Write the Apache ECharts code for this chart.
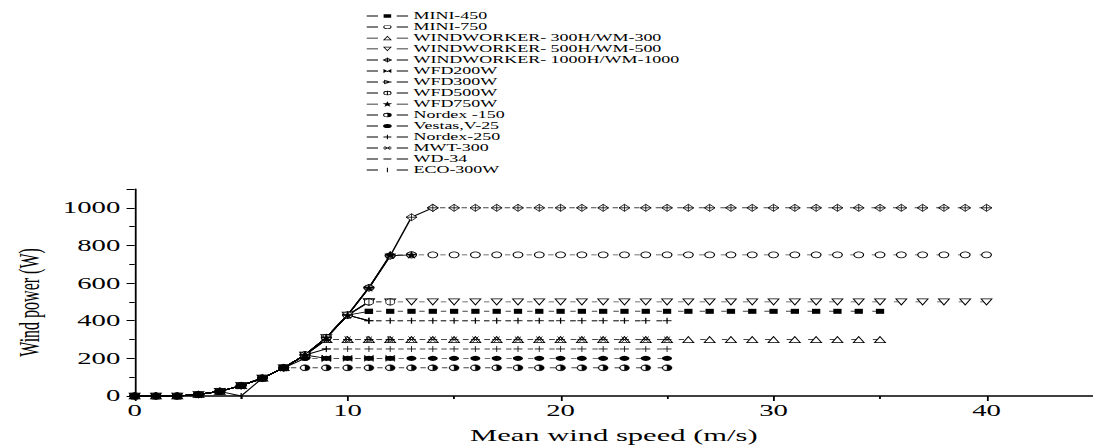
<!DOCTYPE html>
<html><head><meta charset="utf-8">
<script src="https://cdn.jsdelivr.net/npm/echarts@6/dist/echarts.min.js"></script>
<style>
html,body{margin:0;padding:0;background:#fff;overflow:hidden;width:1093px;height:447px;}
#c{width:608px;height:447px;transform:scaleX(1.7977);transform-origin:0 0;}
</style></head><body><div id="c"></div>
<script>
// wind speed (m/s) for each value index
const speeds = [0,1,2,3,4,5,6,7,8,9,10,11,12,13,14,15,16,17,18,19,20,21,22,23,24,25,26,27,28,29,30,31,32,33,34,35,36,37,38,39,40];

const mini450 = [0,0,0,8,25,55,95,150,218,310,430,450,450,450,450,450,450,450,450,450,450,450,450,450,450,450,450,450,450,450,450,450,450,450,450,450];
const mini750 = [0,0,0,8,25,55,95,150,218,310,430,575,745,750,750,750,750,750,750,750,750,750,750,750,750,750,750,750,750,750,750,750,750,750,750,750,750,750,750,750,750];
const ww300 = [0,0,0,8,25,55,95,150,218,300,300,300,300,300,300,300,300,300,300,300,300,300,300,300,300,300,300,300,300,300,300,300,300,300,300,300];
const ww500 = [0,0,0,8,25,55,95,150,218,310,430,500,500,500,500,500,500,500,500,500,500,500,500,500,500,500,500,500,500,500,500,500,500,500,500,500,500,500,500,500,500];
const ww1000 = [0,0,0,8,25,55,95,150,218,310,430,575,745,950,1000,1000,1000,1000,1000,1000,1000,1000,1000,1000,1000,1000,1000,1000,1000,1000,1000,1000,1000,1000,1000,1000,1000,1000,1000,1000,1000];
const wfd200 = [0,0,0,8,25,55,95,150,218,200,200,200,200];
const wfd300 = [0,0,0,8,25,55,95,150,218,300,300,300,300];
const wfd500 = [0,0,0,8,25,55,95,150,218,310,430,500,500];
const wfd750 = [0,0,0,8,25,55,95,150,218,310,430,575,750,750];
const nordex150 = [0,0,0,8,25,55,95,150,150,150,150,150,150,150,150,150,150,150,150,150,150,150,150,150,150,150];
const vestas = [0,0,0,8,25,55,95,150,200,200,200,200,200,200,200,200,200,200,200,200,200,200,200,200,200,200];
const nordex250 = [0,0,0,8,25,55,95,150,218,250,250,250,250,250,250,250,250,250,250,250,250,250,250,250,250,250];
const mwt300 = [0,0,0,8,25,55,95,150,218,300,300,300,300,300,300,300,300,300,300,300,300,300,300,300,300,300];
const wd34 = [0,0,0,8,25,55,95,150,218,310,430,400,400,400,400,400,400,400,400,400,400,400,400,400,400,400];
const eco300 = [0,0,0,8,25,0,95,150,218,310,430,400,400,400,400,400,400,400,400,400,400,400,400,400,400,400];

const names = ['MINI-450','MINI-750','WINDWORKER- 300H/WM-300','WINDWORKER- 500H/WM-500','WINDWORKER- 1000H/WM-1000','WFD200W','WFD300W','WFD500W','WFD750W','Nordex -150','Vestas,V-25','Nordex-250','MWT-300','WD-34','ECO-300W'];
const values = [mini450,mini750,ww300,ww500,ww1000,wfd200,wfd300,wfd500,wfd750,nordex150,vestas,nordex250,mwt300,wd34,eco300];

const xTicks = [0,10,20,30,40];
const yTicks = [0,200,400,600,800,1000];

// ---- plot marker shapes ----
const P = {
  circle: 'path://M0,5A5,5 0 1,1 10,5A5,5 0 1,1 0,5Z',
  triUp: 'path://M5,0L10,9L0,9Z',
  triDown: 'path://M0,0L10,0L5,9Z',
  diamondCross: 'path://M0,5L5,0L10,5L5,10Z M0,5L10,5 M5,0L5,10',
  bowtie: 'path://M0,0L10,10L10,0L0,10Z',
  rightTri: 'path://M0,5L10,5 M3,1L9,5L3,9Z',
  circleBar: 'path://M0,5A5,5 0 1,1 10,5A5,5 0 1,1 0,5Z M5,0L5,10',
  star: 'path://M5,0L6.2,3.6L10,3.6L6.9,5.9L8.1,9.5L5,7.3L1.9,9.5L3.1,5.9L0,3.6L3.8,3.6Z',
  halfCircle: 'path://M5,0A5,5 0 0,1 5,10Z M5,0A5,5 0 0,0 5,10L5,9.2A4.2,4.2 0 0,1 5,0.8Z',
  plus: 'path://M0,5L10,5 M5,0L5,10',
  aster: 'path://M0,5L10,5 M1.5,1L8.5,9 M8.5,1L1.5,9'
};
const syms = [
  {s:'rect', size:[4.6,5], fill:'#000', bw:0},
  {s:P.circle, size:[5.4,6], fill:'#fff', bw:0.7},
  {s:P.triUp, size:[6,6], fill:'#fff', bw:0.7},
  {s:P.triDown, size:[6,6], fill:'#fff', bw:0.7},
  {s:P.diamondCross, size:[6,7], fill:'#fff', bw:0.6},
  {s:P.bowtie, size:[5,6], fill:'#000', bw:0.4},
  {s:P.rightTri, size:[5,6], fill:'#fff', bw:0.6},
  {s:P.circleBar, size:[5,6], fill:'#fff', bw:0.6},
  {s:P.star, size:[6,7], fill:'#000', bw:0.3},
  {s:P.halfCircle, size:[5.6,6], fill:'#000', bw:0.3},
  {s:'circle', size:[5.6,5], fill:'#000', bw:0},
  {s:P.plus, size:[5,6], fill:'#000', bw:0.6},
  {s:P.aster, size:[5,6], fill:'#000', bw:0.6},
  {s:'rect', size:[5,0.9], fill:'#000', bw:0},
  {s:'rect', size:[0.7,6], fill:'#000', bw:0}
];

// ---- legend icon shapes (dash, marker, dash) in a 23 x 7 box ----
const cx = 11.5, cy = 3.5;
const rectP = (x0,y0,x1,y1) => `M${x0},${y0}L${x1},${y0}L${x1},${y1}L${x0},${y1}Z`;
const polyP = pts => 'M' + pts.map(p => p[0] + ',' + p[1]).join('L') + 'Z';
const ellP = (x,y,rx,ry,rev) => rev
  ? `M${x-rx},${y}A${rx},${ry} 0 1,0 ${x+rx},${y}A${rx},${ry} 0 1,0 ${x-rx},${y}Z`
  : `M${x-rx},${y}A${rx},${ry} 0 1,1 ${x+rx},${y}A${rx},${ry} 0 1,1 ${x-rx},${y}Z`;
const hBar = (x0,x1) => rectP(x0, cy-0.4, x1, cy+0.4);
const vBar = (y0,y1) => rectP(cx-0.3, y0, cx+0.3, y1);
const dashes = rectP(0,cy-0.4,6.3,cy+0.4) + rectP(16.7,cy-0.4,23,cy+0.4);
const icons = [
  rectP(cx-2.1,cy-1.7,cx+2.1,cy+1.7),
  ellP(cx,cy,2.3,2) + ellP(cx,cy,1.7,1.4,true),
  polyP([[cx,cy-2.3],[cx+2.5,cy+2],[cx-2.5,cy+2]]) + polyP([[cx,cy-1.1],[cx-1.5,cy+1.4],[cx+1.5,cy+1.4]]),
  polyP([[cx-2.5,cy-2],[cx+2.5,cy-2],[cx,cy+2.3]]) + polyP([[cx-1.5,cy-1.4],[cx,cy+1.1],[cx+1.5,cy-1.4]]),
  polyP([[cx-2.5,cy],[cx,cy-2.6],[cx+2.5,cy],[cx,cy+2.6]]) + polyP([[cx-1.7,cy],[cx,cy+1.9],[cx+1.7,cy],[cx,cy-1.9]]) + hBar(cx-2.5,cx+2.5) + vBar(cy-2.6,cy+2.6),
  polyP([[cx-2.2,cy-2],[cx+2.2,cy+2],[cx+2.2,cy-2],[cx-2.2,cy+2]]),
  polyP([[cx-1.8,cy-2.3],[cx+2.3,cy],[cx-1.8,cy+2.3]]) + polyP([[cx-1.3,cy-1.3],[cx-1.3,cy+1.3],[cx+1.1,cy]]) + hBar(cx-2.6,cx+2.3),
  ellP(cx,cy,2.3,2.2) + ellP(cx,cy,1.7,1.6,true) + vBar(cy-2.2,cy+2.2),
  polyP([[11.5,0.7],[12.15,2.75],[14.2,2.75],[12.55,4.05],[13.2,6.1],[11.5,4.85],[9.8,6.1],[10.45,4.05],[8.8,2.75],[10.85,2.75]]),
  `M${cx},${cy-2.2}A2.4,2.2 0 0,1 ${cx},${cy+2.2}Z` + `M${cx},${cy-2.2}A2.4,2.2 0 0,0 ${cx},${cy+2.2}L${cx},${cy+1.6}A1.8,1.6 0 0,1 ${cx},${cy-1.6}Z`,
  ellP(cx,cy,2.4,2),
  hBar(cx-2.2,cx+2.2) + vBar(cy-2.2,cy+2.2),
  hBar(cx-2.3,cx+2.3) + polyP([[cx-2,cy-2],[cx-1.5,cy-2],[cx+2,cy+2],[cx+1.5,cy+2]]) + polyP([[cx+1.5,cy-2],[cx+2,cy-2],[cx-1.5,cy+2],[cx-2,cy+2]]),
  hBar(cx-2.2,cx+2.2),
  vBar(cy-2.2,cy+2.2)
];
const legendData = names.map((n, i) => ({
  name: n, icon: 'path://' + dashes + icons[i],
  itemStyle: {color: '#000', borderWidth: 0, borderColor: '#000'}
}));

const FONT = 'Liberation Serif';
const series = [];
values.forEach((vals, i) => {
  const last = vals[vals.length - 1];
  let k = vals.length - 1;
  while (k > 0 && vals[k - 1] === last) k--;
  const pts = vals.map((v, j) => [speeds[j], v]);
  const sm = syms[i];
  const common = {
    name: names[i], type: 'line', symbol: sm.s, symbolSize: sm.size,
    showAllSymbol: true,
    itemStyle: {color: sm.fill, borderColor: '#000', borderWidth: sm.bw},
    emphasis: {disabled: true}, silent: true, z: 2
  };
  series.push(Object.assign({}, common, {
    data: pts.slice(k),
    lineStyle: {color: '#444', width: 0.9, type: [3, 9], dashOffset: 7.5}
  }));
  series.push(Object.assign({}, common, {
    data: pts.slice(0, k + 1),
    lineStyle: {color: '#000', width: 0.9, type: 'solid'}
  }));
});

const chart = echarts.init(document.getElementById('c'), null, {renderer: 'svg'});
chart.setOption({
  animation: false,
  backgroundColor: '#fff',
  textStyle: {fontFamily: FONT, color: '#000'},
  legend: {
    data: legendData, orient: 'vertical', left: 204, top: 11,
    itemWidth: 23, itemHeight: 7, itemGap: 1, padding: 0,
    selectedMode: false, symbolKeepAspect: true,
    textStyle: {fontFamily: FONT, fontSize: 10, lineHeight: 10, color: '#000', padding: [0, 0, 0, -2]}
  },
  grid: {left: 72.9, right: -5.6, top: 189, bottom: 51},
  xAxis: {
    type: 'value', min: 0, max: 45, interval: 10,
    name: 'Mean wind speed (m/s)', nameLocation: 'middle', nameGap: 31,
    nameTextStyle: {fontFamily: FONT, fontSize: 17, color: '#000'},
    axisLine: {show: true, lineStyle: {color: '#000', width: 1.5}},
    axisTick: {show: true, inside: false, length: 5, lineStyle: {color: '#000', width: 1}},
    minorTick: {show: true, splitNumber: 2, length: 3, lineStyle: {color: '#000', width: 1}},
    splitLine: {show: false},
    axisLabel: {fontFamily: FONT, fontSize: 16, color: '#000', margin: 6, showMaxLabel: false,
      formatter: v => xTicks.indexOf(v) >= 0 ? String(v) : ''}
  },
  yAxis: {
    type: 'value', min: 0, max: 1100, interval: 200,
    name: 'Wind power (W)', nameLocation: 'middle', nameGap: 50,
    nameTextStyle: {fontFamily: FONT, fontSize: 16, color: '#000', padding: [0, 20, 0, 0]},
    axisLine: {show: true, lineStyle: {color: '#000', width: 1}},
    axisTick: {show: true, inside: false, length: 4.5, lineStyle: {color: '#000', width: 1}},
    minorTick: {show: true, splitNumber: 2, length: 3, lineStyle: {color: '#000', width: 1}},
    splitLine: {show: false},
    axisLabel: {fontFamily: FONT, fontSize: 16, color: '#000', margin: 8, showMaxLabel: false,
      formatter: v => yTicks.indexOf(v) >= 0 ? String(v) : ''}
  },
  series: series
});
</script></body></html>
